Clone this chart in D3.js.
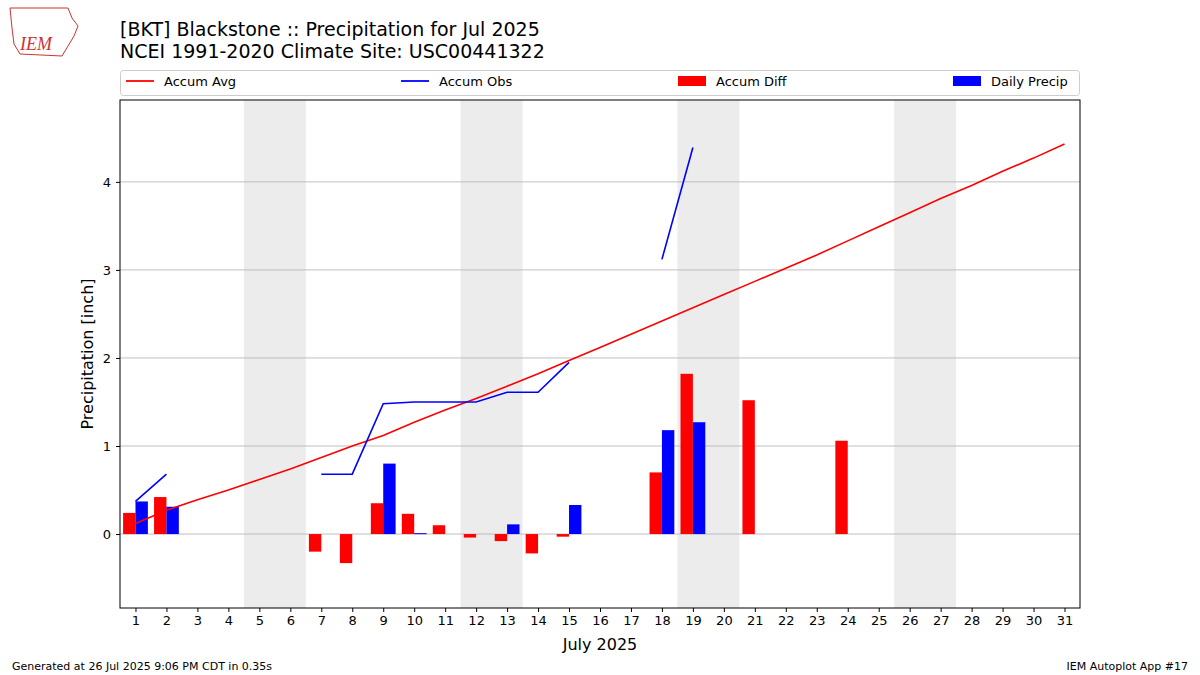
<!DOCTYPE html>
<html><head><meta charset="utf-8">
<script src="https://cdn.jsdelivr.net/npm/d3@7"></script>
<style>body{margin:0;background:#fff}svg{font-family:"DejaVu Sans",sans-serif}</style>
</head><body>
<svg id="c" width="1200" height="675"></svg>
<script>
const days = d3.range(1,32);
const accumAvg = [0.12,0.27,0.39,0.50,0.62,0.74,0.87,1.00,1.12,1.27,1.41,1.54,1.68,1.82,1.97,2.12,2.27,2.42,2.57,2.72,2.87,3.02,3.17,3.33,3.49,3.65,3.81,3.96,4.12,4.27,4.43];
const accumObs = [0.37,0.68,null,null,null,null,0.68,0.68,1.48,1.50,1.50,1.50,1.61,1.61,1.95,null,null,3.12,4.39,null,null,null,null,null,null,null,null,null,null,null,null];
const dailyPrecip = [0.37,0.31,0,0,0,0,0,0,0.80,0.01,0,0,0.11,0,0.33,0,0,1.18,1.27,0,0,0,0,0,0,0,0,0,0,0,0];
const accumDiff = [0.24,0.42,0,0,0,0,-0.20,-0.33,0.35,0.23,0.10,-0.04,-0.08,-0.22,-0.03,0,0,0.70,1.82,0,1.52,0,0,1.06,0,0,0,0,0,0,0];
const weekends = [[4.5,6.5],[11.5,13.5],[18.5,20.5],[25.5,27.5]];
const yTicks = [0,1,2,3,4];

const svg = d3.select("#c");
const L=120,R=1080,T=100,B=608;
const x = d3.scaleLinear().domain([0.5,31.5]).range([L,R]);
const y = d3.scaleLinear().domain([-0.84,4.93]).range([B,T]);

svg.selectAll(".we").data(weekends).join("rect").attr("x",d=>x(d[0])).attr("width",d=>x(d[1])-x(d[0]))
  .attr("y",T).attr("height",B-T).attr("fill","#ececec");
svg.selectAll(".gl").data(yTicks).join("line").attr("x1",L).attr("x2",R).attr("y1",d=>y(d)).attr("y2",d=>y(d))
  .attr("stroke","#b0b0b0").attr("stroke-width",0.8);

const bw = x(1.4)-x(1);
svg.selectAll(".rd").data(days.filter((d,i)=>accumDiff[i]!==0)).join("rect")
  .attr("x",d=>x(d)-bw).attr("width",bw)
  .attr("y",d=>y(Math.max(0,accumDiff[d-1]))).attr("height",d=>Math.abs(y(accumDiff[d-1])-y(0)))
  .attr("fill","#ff0000");
svg.selectAll(".bd").data(days.filter((d,i)=>dailyPrecip[i]!==0)).join("rect")
  .attr("x",d=>x(d)).attr("width",bw)
  .attr("y",d=>y(dailyPrecip[d-1])).attr("height",d=>Math.max(1,y(0)-y(dailyPrecip[d-1])))
  .attr("fill","#0000ff");

const line = d3.line().defined(d=>d[1]!==null).x(d=>x(d[0])).y(d=>y(d[1]));
svg.append("path").attr("d",line(days.map((d,i)=>[d,accumAvg[i]]))).attr("fill","none").attr("stroke","#ff0000").attr("stroke-width",1.6);
svg.append("path").attr("d",line(days.map((d,i)=>[d,accumObs[i]]))).attr("fill","none").attr("stroke","#0000ff").attr("stroke-width",1.6);

const xa = svg.append("g").attr("transform",`translate(0,${B})`).call(d3.axisBottom(x).tickValues(days).tickSize(4).tickPadding(4));
const ya = svg.append("g").attr("transform",`translate(${L},0)`).call(d3.axisLeft(y).tickValues(yTicks).tickFormat(d3.format("d")).tickSize(4).tickPadding(5));
[xa,ya].forEach(a=>{a.select(".domain").remove();a.selectAll("text").attr("font-size",13).attr("fill","#000").attr("font-family","DejaVu Sans");a.selectAll("line").attr("stroke","#000");});
svg.append("rect").attr("x",L).attr("y",T).attr("width",R-L).attr("height",B-T).attr("fill","none").attr("stroke","#000").attr("stroke-width",1);

svg.append("text").attr("x",600).attr("y",650).attr("text-anchor","middle").attr("font-size",16).text("July 2025");
svg.append("text").attr("transform",`translate(93,${(T+B)/2}) rotate(-90)`).attr("text-anchor","middle").attr("font-size",16).text("Precipitation [inch]");
svg.append("text").attr("x",120).attr("y",36).attr("font-size",19).text("[BKT] Blackstone :: Precipitation for Jul 2025");
svg.append("text").attr("x",120).attr("y",58).attr("font-size",19).text("NCEI 1991-2020 Climate Site: USC00441322");

// legend
svg.append("rect").attr("x",120.5).attr("y",70.5).attr("width",959).attr("height",25).attr("rx",3).attr("fill","#fff").attr("stroke","#ccc");
const leg=[{t:"Accum Avg",c:"#ff0000",k:"l",x:126},{t:"Accum Obs",c:"#0000ff",k:"l",x:401},{t:"Accum Diff",c:"#ff0000",k:"b",x:678},{t:"Daily Precip",c:"#0000ff",k:"b",x:953}];
leg.forEach(d=>{
  if(d.k==="l") svg.append("line").attr("x1",d.x).attr("x2",d.x+28).attr("y1",81).attr("y2",81).attr("stroke",d.c).attr("stroke-width",1.8);
  else svg.append("rect").attr("x",d.x).attr("y",76).attr("width",28).attr("height",10).attr("fill",d.c);
  svg.append("text").attr("x",d.x+38).attr("y",86).attr("font-size",13).text(d.t);
});

svg.append("text").attr("x",12).attr("y",670).attr("font-size",11).text("Generated at 26 Jul 2025 9:06 PM CDT in 0.35s");
svg.append("text").attr("x",1188).attr("y",670).attr("text-anchor","end").attr("font-size",11).text("IEM Autoplot App #17");

// logo
const lg=svg.append("g");
lg.append("path").attr("d","M10,8 L68,8 L72,18 L78,26 L74,36 L68,46 L62,56 L20,54 L14,44 L12,28 Z").attr("fill","#fff").attr("stroke","#c33").attr("stroke-width",1);
lg.append("text").attr("x",20).attr("y",50).attr("font-size",18).attr("font-style","italic").attr("font-family","Liberation Serif").attr("fill","#c33").text("IEM");
</script>
</body></html>
